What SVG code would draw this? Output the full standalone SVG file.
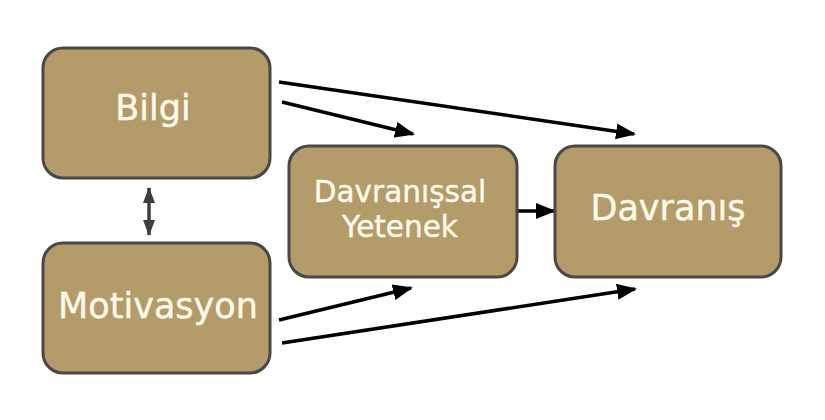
<svg xmlns="http://www.w3.org/2000/svg" width="825" height="420" viewBox="0 0 825 420">
  <style>
    .box { fill: #b49b6a; stroke: #4a4744; stroke-width: 3; }
    .lbl { font-family: "DejaVu Sans", "Liberation Sans", sans-serif; fill: #fffbea; text-anchor: middle; stroke: #fffbea; stroke-width: 0.4; }
    .big { font-size: 35px; }
    .mid { font-size: 29.5px; }
    .edge { stroke: #000; stroke-width: 3.5; fill: none; marker-end: url(#ah); }
    .dbl { stroke: #3d3d3d; stroke-width: 3.5; fill: none; marker-start: url(#ahg); marker-end: url(#ahg); }
  </style>
  <defs>
    <marker id="ah" markerUnits="userSpaceOnUse" markerWidth="20" markerHeight="16" refX="18" refY="8" orient="auto">
      <path d="M0,0 L20,8 L0,16 Z" fill="#000"/>
    </marker>
    <marker id="ahg" markerUnits="userSpaceOnUse" markerWidth="16" markerHeight="12" refX="15" refY="6" orient="auto-start-reverse">
      <path d="M0,0 L16,6 L0,12 Z" fill="#3d3d3d"/>
    </marker>
  </defs>
  <rect width="825" height="420" fill="#ffffff"/>
  <g id="connectors">
    <line class="edge" x1="279" y1="82" x2="634" y2="134"/>
    <line class="edge" x1="282" y1="102" x2="413" y2="134"/>
    <line class="edge" x1="517" y1="211" x2="554" y2="211"/>
    <line class="edge" x1="279" y1="320" x2="411" y2="288"/>
    <line class="edge" x1="282" y1="343" x2="635" y2="289"/>
    <line class="dbl" x1="149" y1="188" x2="149" y2="235"/>
  </g>
  <g id="bilgi">
    <rect class="box" x="43" y="48" width="227" height="130" rx="20"/>
    <text class="lbl big" x="153" y="120">Bilgi</text>
  </g>
  <g id="motivasyon">
    <rect class="box" x="43" y="243" width="227" height="130" rx="20"/>
    <text class="lbl big" x="158" y="318">Motivasyon</text>
  </g>
  <g id="davranissal-yetenek">
    <rect class="box" x="289" y="146" width="228" height="131" rx="20"/>
    <text class="lbl mid" x="400" y="202">Davranışsal</text>
    <text class="lbl mid" x="400" y="237">Yetenek</text>
  </g>
  <g id="davranis">
    <rect class="box" x="555" y="146" width="226" height="131" rx="20"/>
    <text class="lbl big" x="668" y="220">Davranış</text>
  </g>
</svg>
